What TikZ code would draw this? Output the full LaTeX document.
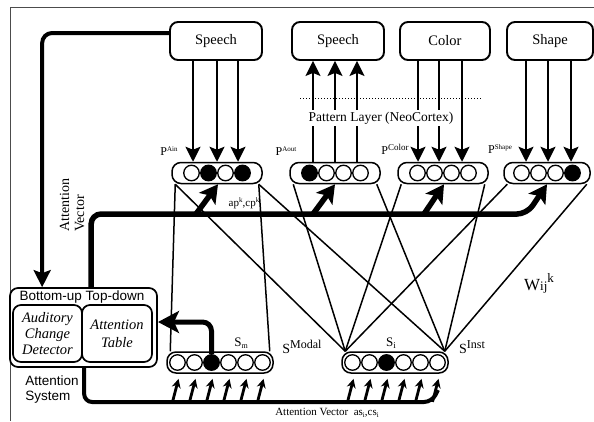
\documentclass[tikz,border=0pt]{standalone}
\usepackage{fontspec}
\setmainfont{Liberation Serif}
\setsansfont{Liberation Sans}
\usetikzlibrary{arrows.meta}

\begin{document}
\begin{tikzpicture}[x=1pt,y=-1pt,
  box/.style={draw, line width=1.9pt, rounded corners=8pt, minimum height=38pt,
    inner sep=0pt, font=\fontsize{14.5}{16}\selectfont},
  pool/.style={draw, line width=1.5pt, rounded corners=9pt, minimum height=21pt,
    inner sep=0pt, fill=white},
  unit/.style={circle, draw, line width=1.3pt, minimum size=15.5pt, inner sep=0pt, fill=white},
  on/.style={unit, fill=black},
  feed/.style={line width=1.7pt, -{Stealth[length=15pt,width=15pt,inset=3pt]}},
  link/.style={line width=1.5pt},
  bold/.style={line width=5.5pt, -{Stealth[length=18pt,width=20pt,inset=4pt]}},
  nudge/.style={line width=2.8pt, -{Stealth[length=9pt,width=9pt]}},
  lbl/.style={font=\fontsize{12}{14}\selectfont, inner sep=0pt},
  panel/.style={draw, line width=1.7pt, rounded corners=8pt, inner sep=0pt},
]
\useasboundingbox (0,0) rectangle (594,421);

% frame
\draw[line width=0.8pt, black!70] (594,7) -- (10,7) -- (10,421);

% modality boxes
\node[box, minimum width=92pt] (spk1) at (216,41) {Speech};
\node[box, minimum width=92pt] (spk2) at (338,41) {Speech};
\node[box, minimum width=90pt] (col)  at (445,41) {Color};
\node[box, minimum width=86pt] (shp)  at (550,41) {Shape};

% pattern pools (outlines only, circles later)
\node[pool, minimum width=90pt] (pain)   at (217,173) {};
\node[pool, minimum width=90pt] (paout)  at (335,173) {};
\node[pool, minimum width=90pt] (pcolor) at (443,173) {};
\node[pool, minimum width=86pt] (pshape) at (547,173) {};

% symbol pools
\node[pool, minimum width=106pt] (sm) at (220,362.5) {};
\node[pool, minimum width=106pt] (si) at (395,362.5) {};

% attention system
\node[panel, minimum width=147pt, minimum height=79pt] (attsys) at (83.5,327.5) {};
\node[font=\sffamily\fontsize{13.5}{15}\selectfont, inner sep=0pt] (bu) at (82,297) {Bottom-up Top-down};
\node[panel, minimum width=69pt, minimum height=57pt, align=center,
  font=\itshape\fontsize{14.5}{16}\selectfont] (acd) at (47.5,333.5) {Auditory\\Change\\Detector};
\node[panel, minimum width=70pt, minimum height=57pt, align=center,
  font=\itshape\fontsize{14.5}{18}\selectfont] (atab) at (117,333.5) {Attention\\Table};

% weight links between pattern pools and symbol pools
\draw[link] ([xshift=4]pain.south west) -- ([xshift=4]sm.north west);
\draw[link] ([xshift=-4]pain.south east) -- ([xshift=-4]sm.north east);
\foreach \p in {pain,paout,pcolor,pshape}{
  \draw[link] ([xshift=4]\p.south west) -- ([xshift=4]si.north west);
  \draw[link] ([xshift=-4]\p.south east) -- ([xshift=-4]si.north east);
}

% sensory input arrows
\foreach \d in {-24,0,21}
  \draw[feed] ([xshift=\d]pain.north |- spk1.south) -- ([xshift=\d]pain.north);
\foreach \d in {-25,-4,19}
  \draw[feed] ([xshift=\d]pcolor.north |- col.south) -- ([xshift=\d]pcolor.north);
\foreach \d in {-21,1,24}
  \draw[feed] ([xshift=\d]pshape.north |- shp.south) -- ([xshift=\d]pshape.north);
% output arrows
\foreach \d in {-22,0,22}
  \draw[feed] ([xshift=\d]paout.north) -- ([xshift=\d]paout.north |- spk2.south);

% pattern layer boundary
\draw[dotted, line width=1pt] (300,98) -- (482,98);
\node[fill=white, inner sep=1.5pt, font=\fontsize{13.5}{15}\selectfont] (plabel) at (381,118)
  {Pattern Layer (NeoCortex)};

% units in the pools
\foreach \s [count=\i] in {unit,on,unit,on}
  \node[\s] (pain-\i) at ([xshift={(\i-2.5)*17}]pain.center) {};
\foreach \s [count=\i] in {on,unit,unit,unit}
  \node[\s] (paout-\i) at ([xshift={(\i-2.5)*17}]paout.center) {};
\foreach \s [count=\i] in {unit,unit,unit,unit}
  \node[\s] (pcolor-\i) at ([xshift={(\i-2.5)*17}]pcolor.center) {};
\foreach \s [count=\i] in {unit,unit,unit,on}
  \node[\s] (pshape-\i) at ([xshift={(\i-2.5)*17}]pshape.center) {};
\foreach \s [count=\i] in {unit,unit,on,unit,unit,unit}
  \node[\s] (sm-\i) at ([xshift={(\i-3.5)*17}]sm.center) {};
\foreach \s [count=\i] in {unit,unit,on,unit,unit,unit}
  \node[\s] (si-\i) at ([xshift={(\i-3.5)*17}]si.center) {};

% attention vector bus to the pattern pools
\coordinate (avbend) at (527,214);
\coordinate (b1) at (196,214);
\coordinate (b2) at (313,214);
\coordinate (b3) at (424,214);
\draw[bold, rounded corners=10pt] ([xshift=82]attsys.north west) |- (avbend) -- (pshape.south);
\draw[bold] (b1) -- ([xshift=1]pain.south);
\draw[bold] (b2) -- (paout.south);
\draw[bold] (b3) -- ([xshift=1]pcolor.south);

% bottom-up input from the speech box
\draw[line width=4pt, rounded corners=10pt, -{Stealth[length=17pt,width=17pt,inset=3pt]}]
  ([yshift=8]spk1.west) -| ([xshift=33]attsys.north west);

% modal symbol feedback to the attention table
\coordinate (smtip) at (158,322);
\draw[line width=5pt, rounded corners=9pt, -{Stealth[length=21pt,width=22pt,inset=5pt]}]
  (sm-3.north) |- (smtip);

% attention vector to the symbol pools
\coordinate (bbend) at (432,402);
\draw[line width=4pt, rounded corners=8pt]
  ([xshift=75]attsys.south west) |- (bbend) -- ++(6,-12);
\foreach \i in {1,...,6}{
  \draw[nudge] ([xshift=-5,yshift=-31]sm-\i.south) -- ([xshift=1,yshift=-8]sm-\i.south);
  \draw[nudge] ([xshift=-5,yshift=-31]si-\i.south) -- ([xshift=1,yshift=-8]si-\i.south);
}

% labels
\node[lbl] (lain) at (169,151) {P\raisebox{4pt}{\fontsize{7}{7}\selectfont Ain}};
\node[lbl] (laout) at (286,151) {P\raisebox{4pt}{\fontsize{7}{7}\selectfont Aout}};
\node[lbl] (lcolor) at (395,149) {P\raisebox{4pt}{\fontsize{9}{9}\selectfont Color}};
\node[lbl] (lshape) at (500,149) {P\raisebox{4pt}{\fontsize{7}{7}\selectfont Shape}};
\node[lbl, font=\fontsize{11}{13}\selectfont] (lap) at (244,203)
  {ap\raisebox{4pt}{\fontsize{7}{7}\selectfont k},cp\raisebox{4pt}{\fontsize{7}{7}\selectfont k}};
\node[lbl, font=\fontsize{13}{15}\selectfont] (lsm) at (241,343)
  {S\raisebox{-2pt}{\fontsize{8}{8}\selectfont m}};
\node[lbl, font=\fontsize{13}{15}\selectfont] (lsi) at (391,343)
  {S\raisebox{-2pt}{\fontsize{9}{9}\selectfont i}};
\node[lbl] (lmodal) at (302,347)
  {{\fontsize{14}{14}\selectfont S}\raisebox{5pt}{\fontsize{12}{12}\selectfont Modal}};
\node[lbl] (linst) at (472,347)
  {{\fontsize{14}{14}\selectfont S}\raisebox{5pt}{\fontsize{12}{12}\selectfont Inst}};
\node[lbl] (lw) at (539,283)
  {{\fontsize{17}{17}\selectfont W}{\fontsize{13}{13}\selectfont ij}\raisebox{8pt}{\fontsize{13}{13}\selectfont k}};
\node[rotate=90, anchor=west, align=left, inner sep=0pt,
  font=\fontsize{14}{15}\selectfont] (avlabel) at (72,232) {Attention\\Vector};
\node[align=left, inner sep=0pt, font=\sffamily\fontsize{13.5}{15}\selectfont] (lsys) at (52,389.5)
  {Attention\\System};
\node[lbl, font=\fontsize{11}{13}\selectfont] (lbottom) at (327,413)
  {Attention Vector\ \ as\raisebox{-1.5pt}{\fontsize{7}{7}\selectfont i},cs\raisebox{-1.5pt}{\fontsize{7}{7}\selectfont i}};
\end{tikzpicture}
\end{document}
